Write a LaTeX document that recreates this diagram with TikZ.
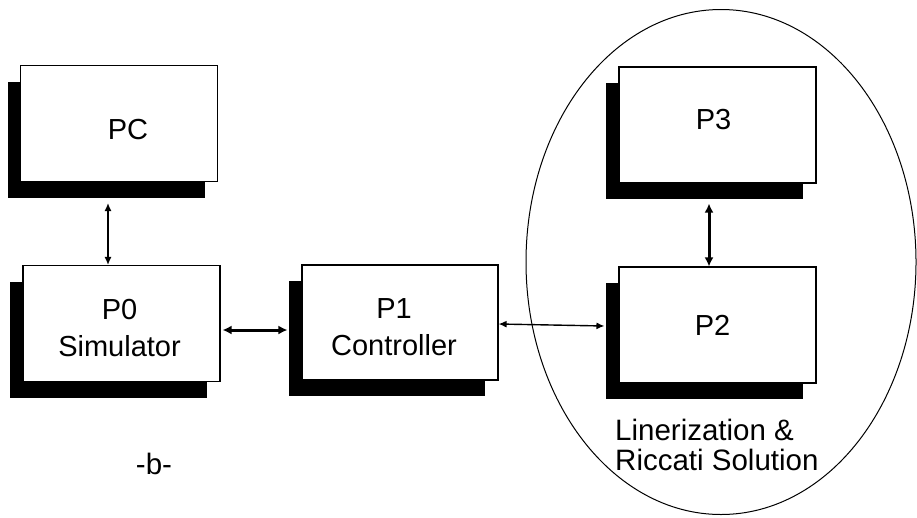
\documentclass[tikz,border=0pt]{standalone}
\usepackage{fontspec}
\setmainfont{Liberation Sans}
\usetikzlibrary{shadows,shapes.geometric,arrows.meta}
\begin{document}
\begin{tikzpicture}[x=1pt,y=-1pt,
  procbox/.style={draw=black, line width=1.1pt, fill=white, rectangle,
    minimum width=197pt, minimum height=116pt, inner sep=0pt,
    drop shadow={shadow xshift=-13pt, shadow yshift=-16pt, fill=black, opacity=1}},
  boxtext/.style={align=center, inner sep=0pt, font=\fontsize{29}{37}\selectfont},
  thinarrow/.style={{Latex[length=8pt,width=7pt]}-{Latex[length=8pt,width=7pt]}, line width=1.4pt},
  thickarrow/.style={{Latex[length=9pt,width=9pt]}-{Latex[length=9pt,width=9pt]}, line width=3pt},
  lbl/.style={font=\fontsize{29.5}{30}\selectfont, inner sep=0pt}
]
\useasboundingbox (0,0) rectangle (917,517);
\node[draw=black, line width=1pt, ellipse, minimum width=390pt, minimum height=505pt, inner sep=0pt] (grp) at (721,262) {};

\node[procbox] (PC) at (119,123.5) {};
\node[procbox] (P0) at (121.5,323.5) {};
\node[procbox, minimum width=196pt, minimum height=115pt] (P1) at (400,322.5) {};
\node[procbox] (P3) at (717.5,125) {};
\node[procbox] (P2) at (717.5,325) {};

\node[boxtext] (PCt) at ([xshift=9pt,yshift=-6pt]PC.center) {PC};
\node[boxtext] (P0t) at ([xshift=-2pt,yshift=-5pt]P0.center) {P0\\Simulator};
\node[boxtext] (P1t) at ([xshift=-6pt,yshift=-5pt]P1.center) {P1\\Controller};
\node[boxtext] (P3t) at ([xshift=-4pt,yshift=5pt]P3.center) {P3};
\node[boxtext] (P2t) at ([xshift=-5pt]P2.center) {P2};

\node[lbl, anchor=west, align=left] (cap) at (615,445) {Linerization \&\\Riccati Solution};
\node[lbl] (b) at (154,464) {-b-};

\draw[thinarrow] ([xshift=-11pt,yshift=-21pt]PC.south) -- ([xshift=-13.5pt]P0.north);
\draw[thickarrow] ([xshift=2pt,yshift=-6.5pt]P0.east) -- ([xshift=-14pt,yshift=-7.5pt]P1.west);
\draw[thinarrow] ([yshift=-1.5pt]P1.east) -- ([xshift=-14pt,yshift=-1pt]P2.west);
\draw[thickarrow] ([xshift=-8.5pt,yshift=-20pt]P3.south) -- ([xshift=-8.5pt]P2.north);
\end{tikzpicture}
\end{document}
